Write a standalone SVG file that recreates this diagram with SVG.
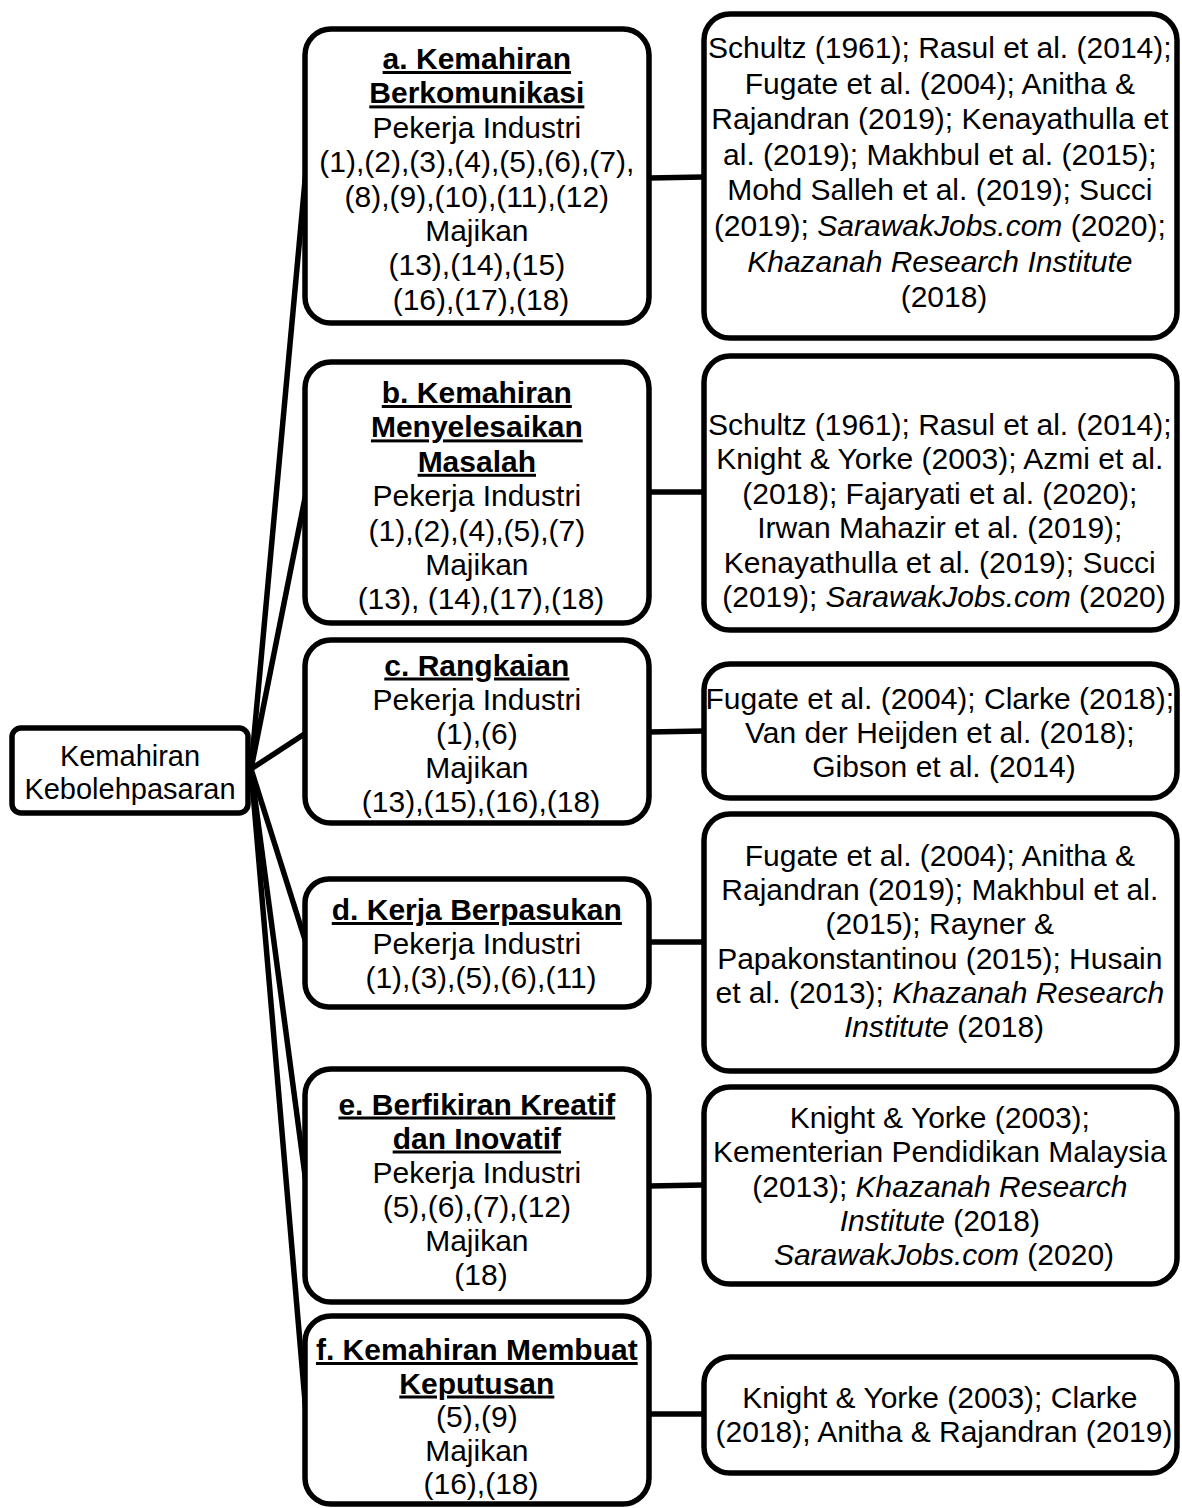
<svg xmlns="http://www.w3.org/2000/svg" width="1182" height="1508" viewBox="0 0 1182 1508">
  <style>
    .box { fill: #ffffff; stroke: #000000; stroke-width: 5.5; }
    .link { fill: none; stroke: #000000; stroke-width: 5.5; stroke-linecap: butt; }
    text { font-family: "Liberation Sans", Arial, sans-serif; font-size: 30px; fill: #000000; text-anchor: middle; }
    .h { font-weight: bold; text-decoration: underline; }
    .i { font-style: italic; }
  </style>
  <rect width="1182" height="1508" fill="#ffffff"/>

  <!-- connectors -->
  <g id="connectors">
    <line class="link" x1="251" y1="769" x2="306" y2="170"/>
    <line class="link" x1="251" y1="769" x2="306" y2="493"/>
    <line class="link" x1="251" y1="769" x2="306" y2="733"/>
    <line class="link" x1="251" y1="769" x2="306" y2="943"/>
    <line class="link" x1="251" y1="769" x2="306" y2="1183"/>
    <line class="link" x1="251" y1="769" x2="306" y2="1413"/>
    <line class="link" x1="649" y1="178" x2="704" y2="177"/>
    <line class="link" x1="649" y1="492" x2="704" y2="492"/>
    <line class="link" x1="649" y1="732" x2="704" y2="731"/>
    <line class="link" x1="649" y1="942" x2="704" y2="942"/>
    <line class="link" x1="649" y1="1186" x2="704" y2="1185"/>
    <line class="link" x1="649" y1="1414" x2="704" y2="1414"/>
  </g>

  <!-- root -->
  <g id="root">
    <rect class="box" x="12" y="728" width="236" height="85" rx="9"/>
    <text style="font-size:29px"><tspan x="130" y="766">Kemahiran</tspan><tspan x="130" y="799">Kebolehpasaran</tspan></text>
  </g>

  <!-- skill a -->
  <g id="skill-a">
    <rect class="box" x="305" y="29" width="344" height="294" rx="26"/>
    <text>
      <tspan class="h" x="481" y="69">a. Kemahiran</tspan>
      <tspan class="h" x="481" y="103.4">Berkomunikasi</tspan>
      <tspan x="481" y="137.8">Pekerja Industri</tspan>
      <tspan x="481" y="172.2">(1),(2),(3),(4),(5),(6),(7),</tspan>
      <tspan x="481" y="206.6">(8),(9),(10),(11),(12)</tspan>
      <tspan x="481" y="241">Majikan</tspan>
      <tspan x="481" y="275.4">(13),(14),(15)</tspan>
      <tspan x="481" y="309.8">(16),(17),(18)</tspan>
    </text>
  </g>
  <g id="refs-a">
    <rect class="box" x="704" y="14" width="473" height="324" rx="26"/>
    <text>
      <tspan x="944" y="58">Schultz (1961); Rasul et al. (2014);</tspan>
      <tspan x="944" y="93.6">Fugate et al. (2004); Anitha &amp;</tspan>
      <tspan x="944" y="129.2">Rajandran (2019); Kenayathulla et</tspan>
      <tspan x="944" y="164.8">al. (2019); Makhbul et al. (2015);</tspan>
      <tspan x="944" y="200.4">Mohd Salleh et al. (2019); Succi</tspan>
      <tspan x="944" y="236">(2019); <tspan class="i">SarawakJobs.com</tspan> (2020);</tspan>
      <tspan class="i" x="944" y="271.6">Khazanah Research Institute</tspan>
      <tspan x="944" y="307.2">(2018)</tspan>
    </text>
  </g>

  <!-- skill b -->
  <g id="skill-b">
    <rect class="box" x="305" y="362" width="344" height="261" rx="26"/>
    <text>
      <tspan class="h" x="481" y="403">b. Kemahiran</tspan>
      <tspan class="h" x="481" y="437.4">Menyelesaikan</tspan>
      <tspan class="h" x="481" y="471.8">Masalah</tspan>
      <tspan x="481" y="506.2">Pekerja Industri</tspan>
      <tspan x="481" y="540.6">(1),(2),(4),(5),(7)</tspan>
      <tspan x="481" y="575">Majikan</tspan>
      <tspan x="481" y="609.4">(13), (14),(17),(18)</tspan>
    </text>
  </g>
  <g id="refs-b">
    <rect class="box" x="704" y="356" width="473" height="274" rx="26"/>
    <text>
      <tspan x="944" y="435">Schultz (1961); Rasul et al. (2014);</tspan>
      <tspan x="944" y="469.4">Knight &amp; Yorke (2003); Azmi et al.</tspan>
      <tspan x="944" y="503.8">(2018); Fajaryati et al. (2020);</tspan>
      <tspan x="944" y="538.2">Irwan Mahazir et al. (2019);</tspan>
      <tspan x="944" y="572.6">Kenayathulla et al. (2019); Succi</tspan>
      <tspan x="944" y="607">(2019); <tspan class="i">SarawakJobs.com</tspan> (2020)</tspan>
    </text>
  </g>

  <!-- skill c -->
  <g id="skill-c">
    <rect class="box" x="305" y="640" width="344" height="183" rx="26"/>
    <text>
      <tspan class="h" x="481" y="675.5">c. Rangkaian</tspan>
      <tspan x="481" y="709.5">Pekerja Industri</tspan>
      <tspan x="481" y="743.5">(1),(6)</tspan>
      <tspan x="481" y="777.5">Majikan</tspan>
      <tspan x="481" y="811.5">(13),(15),(16),(18)</tspan>
    </text>
  </g>
  <g id="refs-c">
    <rect class="box" x="704" y="664" width="473" height="134" rx="26"/>
    <text>
      <tspan x="944" y="708.6">Fugate et al. (2004); Clarke (2018);</tspan>
      <tspan x="944" y="743">Van der Heijden et al. (2018);</tspan>
      <tspan x="944" y="777">Gibson et al. (2014)</tspan>
    </text>
  </g>

  <!-- skill d -->
  <g id="skill-d">
    <rect class="box" x="305" y="879" width="344" height="128" rx="24"/>
    <text>
      <tspan class="h" x="481" y="920">d. Kerja Berpasukan</tspan>
      <tspan x="481" y="953.5">Pekerja Industri</tspan>
      <tspan x="481" y="987.5">(1),(3),(5),(6),(11)</tspan>
    </text>
  </g>
  <g id="refs-d">
    <rect class="box" x="704" y="814" width="473" height="257" rx="26"/>
    <text>
      <tspan x="944" y="866">Fugate et al. (2004); Anitha &amp;</tspan>
      <tspan x="944" y="900.2">Rajandran (2019); Makhbul et al.</tspan>
      <tspan x="944" y="934.4">(2015); Rayner &amp;</tspan>
      <tspan x="944" y="968.6">Papakonstantinou (2015); Husain</tspan>
      <tspan x="944" y="1002.8">et al. (2013); <tspan class="i">Khazanah Research</tspan></tspan>
      <tspan x="944" y="1037"><tspan class="i">Institute</tspan> (2018)</tspan>
    </text>
  </g>

  <!-- skill e -->
  <g id="skill-e">
    <rect class="box" x="305" y="1069" width="344" height="233" rx="26"/>
    <text>
      <tspan class="h" x="481" y="1114.5">e. Berfikiran Kreatif</tspan>
      <tspan class="h" x="481" y="1148.5">dan Inovatif</tspan>
      <tspan x="481" y="1182.5">Pekerja Industri</tspan>
      <tspan x="481" y="1216.5">(5),(6),(7),(12)</tspan>
      <tspan x="481" y="1250.5">Majikan</tspan>
      <tspan x="481" y="1284.5">(18)</tspan>
    </text>
  </g>
  <g id="refs-e">
    <rect class="box" x="704" y="1087" width="473" height="197" rx="26"/>
    <text>
      <tspan x="944" y="1128">Knight &amp; Yorke (2003);</tspan>
      <tspan x="944" y="1162.3">Kementerian Pendidikan Malaysia</tspan>
      <tspan x="944" y="1196.6">(2013); <tspan class="i">Khazanah Research</tspan></tspan>
      <tspan x="944" y="1230.9"><tspan class="i">Institute</tspan> (2018)</tspan>
      <tspan x="944" y="1265.2"><tspan class="i">SarawakJobs.com</tspan> (2020)</tspan>
    </text>
  </g>

  <!-- skill f -->
  <g id="skill-f">
    <rect class="box" x="305" y="1316" width="344" height="188" rx="26"/>
    <text>
      <tspan class="h" x="481" y="1360">f. Kemahiran Membuat</tspan>
      <tspan class="h" x="481" y="1393.5">Keputusan</tspan>
      <tspan x="481" y="1427">(5),(9)</tspan>
      <tspan x="481" y="1460.5">Majikan</tspan>
      <tspan x="481" y="1494">(16),(18)</tspan>
    </text>
  </g>
  <g id="refs-f">
    <rect class="box" x="704" y="1357" width="473" height="116" rx="26"/>
    <text>
      <tspan x="944" y="1407.5">Knight &amp; Yorke (2003); Clarke</tspan>
      <tspan x="944" y="1442">(2018); Anitha &amp; Rajandran (2019)</tspan>
    </text>
  </g>
</svg>
